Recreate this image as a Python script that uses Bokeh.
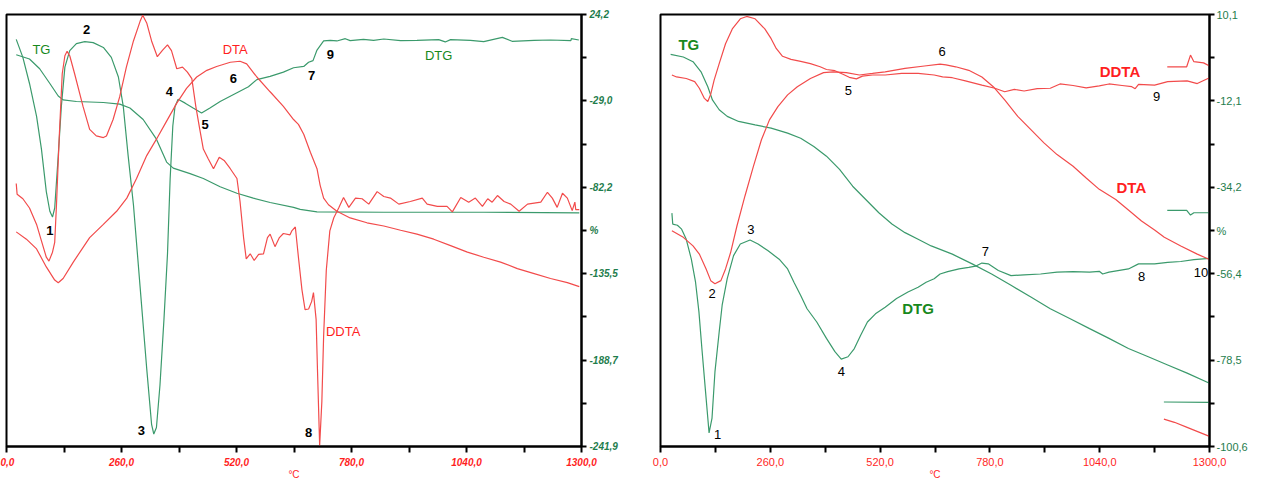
from bokeh.plotting import figure
from bokeh.layouts import row
from bokeh.models import FixedTicker, Range1d, ColumnDataSource
from bokeh.embed import file_html
from bokeh.resources import INLINE
from bokeh.core.properties import value

# ---------------- data: left panel (T in °C, value on right axis) ----------------
L_TG = [(22, -0.6), (52, -3.2), (75, -9.2), (98, -18.3), (117, -26.0), (128, -28.4), (158, -29.4),
        (219, -30.0), (256, -31.0), (279, -33.4), (309, -40.5), (339, -52.6), (362, -66.7),
        (377, -70.4), (415, -73.8), (445, -76.8), (483, -81.9), (521, -85.9), (558, -88.9),
        (596, -91.6), (649, -94.6), (664, -95.8), (702, -97.4), (853, -97.6), (1079, -97.6), (1295, -98.0)]
L_DTG = [(22, 8.9), (37, -2.2), (52, -18.3), (68, -38.5), (79, -58.7), (90, -84.9), (98, -97.0),
         (104, -100.6), (109, -95.0), (117, -62.7), (124, -32.4), (132, -8.2), (143, 1.9), (158, 6.3),
         (177, 7.5), (196, 6.9), (219, 3.9), (237, -2.2), (253, -14.3), (264, -32.4), (275, -62.7),
         (287, -93.0), (302, -143.4), (317, -193.9), (328, -228.2), (333, -234.2), (339, -230.2),
         (347, -204.0), (356, -163.6), (364, -123.2), (370, -76.8), (376, -44.5), (381, -32.4),
         (388, -28.0), (404, -30.4), (422, -33.4), (441, -36.5), (460, -33.4), (483, -29.4),
         (521, -24.0), (547, -20.3), (566, -15.9), (596, -13.9), (626, -11.3), (649, -8.6),
         (672, -7.8), (683, -5.2), (693, -4.2), (702, 2.3), (717, 7.9), (732, 8.3), (747, 7.9),
         (766, 9.3), (777, 8.1), (807, 8.9), (830, 8.3), (853, 9.1), (891, 8.1), (928, 8.3),
         (977, 8.7), (992, 7.3), (1004, 8.7), (1049, 8.3), (1079, 7.5), (1121, 10.1), (1143, 7.7),
         (1193, 8.3), (1230, 8.5), (1276, 8.1), (1277, 9.3), (1294, 8.5)]
L_DTA = [(22, -109.7), (45, -114.2), (68, -120.2), (90, -131.3), (109, -139.4), (117, -141.0),
         (128, -138.4), (151, -128.3), (188, -113.2), (219, -105.1), (249, -97.0), (272, -88.9),
         (294, -76.8), (317, -62.7), (339, -52.6), (362, -41.5), (385, -30.4), (407, -21.3),
         (430, -14.3), (453, -10.2), (475, -7.8), (506, -5.2), (528, -4.6), (543, -6.2),
         (566, -14.3), (596, -23.4), (626, -32.4), (649, -40.5), (660, -43.5), (672, -49.6),
         (687, -60.7), (702, -70.8), (709, -80.9), (717, -88.9), (728, -93.0), (747, -97.0),
         (777, -101.1), (815, -104.1), (853, -106.1), (891, -108.7), (928, -111.1), (966, -114.2),
         (1004, -118.2), (1042, -122.2), (1079, -125.3), (1117, -128.3), (1155, -132.3),
         (1193, -135.4), (1230, -138.4), (1268, -141.0), (1295, -143.4)]
L_DDTA = [(22, -79.9), (24, -86.5), (37, -89.3), (52, -95.0), (68, -105.1), (79, -115.2), (90, -125.3),
          (96, -127.7), (104, -122.2), (109, -116.2), (113, -93.0), (119, -52.6), (126, -12.3),
          (132, -1.2), (137, 1.5), (143, -1.2), (154, -12.3), (173, -32.4), (188, -46.6),
          (203, -50.6), (219, -51.6), (226, -50.6), (241, -40.5), (256, -26.4), (271, -8.2),
          (287, 7.9), (302, 20.0), (308, 23.7), (317, 19.0), (328, 7.9), (341, -1.8), (353, 2.3),
          (364, 5.5), (373, 1.9), (385, -9.2), (398, -8.2), (409, -11.3), (419, -15.3), (428, -32.4),
          (437, -46.6), (445, -58.7), (456, -64.7), (468, -70.8), (481, -63.7), (492, -65.7),
          (506, -70.8), (521, -76.8), (528, -91.0), (536, -113.2), (542, -126.3), (551, -123.2),
          (560, -127.3), (570, -123.6), (581, -123.2), (590, -113.2), (596, -111.1), (607, -118.8),
          (617, -113.2), (626, -110.7), (641, -111.5), (645, -109.1), (653, -106.7), (660, -125.3),
          (668, -145.4), (675, -157.6), (683, -157.2), (690, -152.5), (694, -147.1), (700, -163.6),
          (703, -193.9), (708, -241.3), (713, -214.1), (717, -173.7), (723, -133.3), (731, -109.1),
          (740, -101.0), (751, -95.0), (762, -88.5), (774, -94.6), (789, -88.9), (804, -89.3),
          (819, -92.6), (838, -84.9), (853, -87.9), (868, -88.9), (887, -92.6), (913, -91.0),
          (940, -88.9), (951, -92.6), (974, -94.0), (996, -94.0), (1008, -97.4), (1027, -88.5),
          (1045, -91.4), (1060, -88.9), (1076, -94.0), (1088, -89.3), (1098, -91.4), (1110, -87.3),
          (1125, -91.0), (1140, -92.6), (1159, -97.0), (1178, -92.6), (1208, -91.4), (1223, -85.3),
          (1234, -88.9), (1245, -94.6), (1257, -85.9), (1268, -88.9), (1279, -96.6), (1285, -91.4),
          (1287, -96.0), (1295, -96.0)]

L_Y_LABELS = ["24,2", "", "-29,0", "", "-82,2", "%", "-135,5", "", "-188,7", "", "-241,9"]
L_Y_TOP, L_Y_BOTTOM = 24.2, -241.9
X_LABELS = ["0,0", "", "260,0", "", "520,0", "", "780,0", "", "1040,0", "", "1300,0"]
X_UNIT = "°C"

L_NUMS = [("1", 98, -109.1), ("2", 181, 15.0), ("3", 305, -232.2), ("4", 368, -23.4),
          ("5", 449, -43.5), ("6", 513, -15.3), ("7", 690, -13.3), ("8", 683, -233.2), ("9", 732, -0.2)]
L_GREEN_NAMES = [("TG", 79, 2.9), ("DTG", 977, -1.2)]
L_RED_NAMES = [("DTA", 517, 2.9), ("DDTA", 761, -171.3)]

# ---------------- data: right panel ----------------
R_TG = [(24, -0.1), (54, -0.8), (77, -2.0), (96, -4.6), (112, -8.4), (123, -11.8), (139, -14.3),
        (158, -16.0), (185, -17.3), (224, -18.2), (262, -19.0), (301, -20.3), (332, -21.6),
        (363, -23.7), (393, -26.2), (424, -29.6), (455, -33.9), (486, -37.3), (517, -40.7),
        (548, -43.6), (579, -45.8), (610, -47.5), (641, -49.2), (691, -51.3), (738, -53.8),
        (784, -56.4), (830, -59.3), (877, -62.3), (923, -65.3), (969, -67.8), (1016, -70.4),
        (1062, -72.9), (1108, -75.5), (1155, -77.6), (1201, -79.7), (1247, -81.8), (1300, -84.4)]
R_DTG = [(27, -40.8), (29, -43.6), (40, -43.9), (50, -44.9), (61, -47.5), (73, -52.6), (83, -58.5),
         (91, -66.1), (98, -75.5), (106, -85.7), (112, -93.3), (115, -97.1), (122, -93.3),
         (129, -81.4), (139, -71.2), (146, -64.4), (158, -57.6), (173, -51.7), (189, -48.7),
         (212, -47.7), (231, -48.7), (254, -50.4), (281, -52.6), (301, -55.1), (316, -58.5),
         (332, -61.9), (347, -65.3), (370, -68.7), (393, -72.9), (413, -76.3), (428, -78.2),
         (444, -77.6), (459, -75.5), (474, -72.1), (490, -68.7), (509, -66.6), (532, -64.9),
         (559, -62.7), (586, -61.0), (610, -59.8), (629, -58.5), (648, -57.6), (662, -56.4),
         (680, -55.8), (707, -55.1), (730, -54.7), (746, -54.4), (761, -53.6), (776, -53.8),
         (800, -55.5), (830, -56.8), (861, -56.6), (900, -56.4), (939, -55.9), (977, -55.8),
         (1016, -55.9), (1039, -55.7), (1047, -56.4), (1062, -55.9), (1108, -55.1), (1132, -53.8),
         (1170, -53.8), (1201, -53.4), (1232, -53.2), (1263, -52.7), (1300, -52.4)]
R_DTA = [(27, -45.3), (54, -47.0), (77, -49.2), (92, -51.3), (108, -55.1), (119, -58.1), (129, -58.9),
         (143, -58.1), (154, -55.1), (166, -50.9), (181, -44.1), (200, -36.4), (220, -28.8),
         (239, -22.0), (258, -16.9), (278, -13.5), (301, -10.5), (324, -8.4), (355, -6.3),
         (386, -4.8), (409, -4.6), (440, -4.8), (471, -5.4), (502, -5.0), (532, -4.6), (579, -3.7),
         (625, -3.1), (662, -2.6), (676, -2.8), (699, -3.3), (730, -4.2), (761, -5.9), (788, -8.4),
         (815, -11.8), (846, -16.0), (877, -19.4), (908, -22.8), (939, -25.8), (977, -28.8),
         (1008, -31.8), (1039, -34.7), (1078, -37.3), (1108, -40.0), (1139, -42.8), (1170, -45.1),
         (1193, -47.0), (1232, -49.2), (1271, -51.3), (1300, -52.7)]
R_DDTA = [(27, -5.4), (38, -5.9), (61, -6.3), (81, -7.1), (92, -8.8), (104, -11.4), (112, -12.2),
          (119, -10.3), (127, -6.7), (139, -2.5), (154, 2.6), (170, 6.4), (189, 9.0), (204, 9.6),
          (224, 9.0), (247, 6.4), (262, 3.9), (274, 1.4), (289, -0.6), (309, -1.4), (332, -1.9),
          (355, -2.5), (378, -3.3), (393, -4.0), (413, -4.3), (432, -5.2), (447, -6.0), (464, -6.4),
          (478, -5.7), (502, -5.4), (532, -5.4), (571, -5.0), (610, -5.0), (648, -5.4), (668, -5.9),
          (691, -6.1), (722, -6.9), (761, -8.0), (792, -8.8), (815, -9.7), (838, -9.1), (861, -9.5),
          (892, -8.9), (923, -8.8), (946, -7.7), (977, -8.1), (1008, -8.7), (1039, -8.2),
          (1062, -7.7), (1093, -8.1), (1116, -8.4), (1124, -8.9), (1132, -7.8), (1170, -8.0),
          (1201, -7.1), (1247, -6.9), (1271, -7.6), (1300, -6.1)]
R_RED_SEG_TOP = [(1200, -3.3), (1246, -3.3), (1255, -0.3), (1263, -2.0), (1286, -2.3), (1300, -3.1)]
R_GREEN_SEG_MID = [(1200, -40.1), (1246, -40.1), (1255, -41.3), (1263, -40.7), (1300, -40.7)]
R_GREEN_SEG_LOW = [(1192, -89.2), (1300, -89.3)]
R_RED_SEG_LOW = [(1192, -93.6), (1217, -94.4), (1247, -95.7), (1300, -98.0)]

R_Y_LABELS = ["10,1", "", "-12,1", "", "-34,2", "%", "-56,4", "", "-78,5", "", "-100,6"]
R_Y_TOP, R_Y_BOTTOM = 10.1, -100.6

R_NUMS = [("1", 135, -97.4), ("2", 122, -61.5), ("3", 214, -44.9), ("4", 428, -81.4),
          ("5", 445, -9.4), ("6", 667, 0.5), ("7", 769, -50.7), ("8", 1139, -57.1),
          ("9", 1175, -10.8), ("10", 1280, -55.9)]
R_GREEN_NAMES = [("TG", 67, 2.5), ("DTG", 610, -65.3)]
R_RED_NAMES = [("DDTA", 1088, -4.6), ("DTA", 1115, -34.3)]

# ---------------- styles ----------------
RED_LINE = "#f24b4b"
GREEN_LINE = "#3b9a6c"
GREEN_TEXT = "#17891c"
RED_TEXT = "#ff1f1f"
TICK_GREEN = "#1f7d4d"
NARROW = "'Liberation Sans Narrow', 'Liberation Sans', sans-serif"
X_TICKS = [130 * i for i in range(11)]
FIG_H = 482


def unzip(pairs):
    return [p[0] for p in pairs], [p[1] for p in pairs]


def add_texts(p, items, color, size, style):
    src = ColumnDataSource(dict(x=[i[1] for i in items], y=[i[2] for i in items], t=[i[0] for i in items]))
    p.text(x="x", y="y", text="t", source=src, text_color=color, text_font=value(NARROW),
           text_font_size=size, text_font_style=style, text_align="center", text_baseline="middle")


def make_panel(width, top, frame_h, left, right, ytop, ybot, ylabels, xstyle, xsize, ystyle, ysize,
               ystandoff):
    p = figure(width=width, height=FIG_H, x_range=Range1d(0, 1300), y_range=Range1d(ybot, ytop),
               output_backend="svg", toolbar_location=None, y_axis_location="right",
               min_border_left=left, min_border_right=right, min_border_top=top,
               min_border_bottom=FIG_H - top - frame_h)
    p.xgrid.visible = False
    p.ygrid.visible = False
    p.outline_line_color = "black"
    p.outline_line_width = 2
    p.background_fill_color = "white"
    p.border_fill_color = "white"
    step = (ytop - ybot) / 10.0
    yt = [round(ytop - i * step, 2) for i in range(11)]
    p.yaxis.ticker = FixedTicker(ticks=yt)
    p.yaxis.major_label_overrides = {t: l for t, l in zip(yt, ylabels)}
    p.xaxis.ticker = FixedTicker(ticks=X_TICKS)
    p.xaxis.major_label_overrides = {t: l for t, l in zip(X_TICKS, X_LABELS)}
    for ax in (p.xaxis[0], p.yaxis[0]):
        ax.axis_line_width = 2
        ax.axis_line_color = "black"
        ax.major_tick_line_width = 2
        ax.major_tick_line_color = "black"
        ax.major_tick_in = 0
        ax.major_tick_out = 6
        ax.minor_tick_line_color = None
        ax.major_label_text_font = NARROW
    p.yaxis.major_tick_out = 5
    p.xaxis.major_label_standoff = 5
    p.xaxis.major_label_text_color = RED_TEXT
    p.xaxis.major_label_text_font_style = xstyle
    p.xaxis.major_label_text_font_size = xsize
    p.xaxis.axis_label = X_UNIT
    p.xaxis.axis_label_standoff = 0
    p.xaxis.axis_label_text_font = NARROW
    p.xaxis.axis_label_text_font_size = "10px"
    p.xaxis.axis_label_text_font_style = "normal"
    p.xaxis.axis_label_text_color = RED_TEXT
    p.yaxis.major_label_standoff = ystandoff
    p.yaxis.major_label_text_color = TICK_GREEN
    p.yaxis.major_label_text_font_style = ystyle
    p.yaxis.major_label_text_font_size = ysize
    return p


# ---------------- left panel ----------------
p1 = make_panel(634, 8, 440, 6, 53, L_Y_TOP, L_Y_BOTTOM, L_Y_LABELS,
                "bold italic", "10px", "bold italic", "10px", 3)
for pairs, col in ((L_TG, GREEN_LINE), (L_DTG, GREEN_LINE), (L_DTA, RED_LINE), (L_DDTA, RED_LINE)):
    xs, ys = unzip(pairs)
    p1.line(xs, ys, line_color=col, line_width=1.2)
add_texts(p1, L_NUMS, "black", "13px", "bold")
add_texts(p1, L_GREEN_NAMES, GREEN_TEXT, "13px", "normal")
add_texts(p1, L_RED_NAMES, RED_TEXT, "13px", "normal")

# ---------------- right panel ----------------
p2 = make_panel(616, 14, 434, 26, 40, R_Y_TOP, R_Y_BOTTOM, R_Y_LABELS,
                "normal", "11px", "normal", "11px", 2)
for pairs, col in ((R_TG, GREEN_LINE), (R_DTG, GREEN_LINE), (R_DTA, RED_LINE), (R_DDTA, RED_LINE),
                   (R_RED_SEG_TOP, RED_LINE), (R_GREEN_SEG_MID, GREEN_LINE),
                   (R_GREEN_SEG_LOW, GREEN_LINE), (R_RED_SEG_LOW, RED_LINE)):
    xs, ys = unzip(pairs)
    p2.line(xs, ys, line_color=col, line_width=1.2)
add_texts(p2, R_NUMS, "black", "13px", "normal")
add_texts(p2, R_GREEN_NAMES, GREEN_TEXT, "15px", "bold")
add_texts(p2, R_RED_NAMES, RED_TEXT, "15px", "bold")

layout = row(p1, p2, spacing=0)
open("out.html", "w").write(file_html(layout, INLINE))
